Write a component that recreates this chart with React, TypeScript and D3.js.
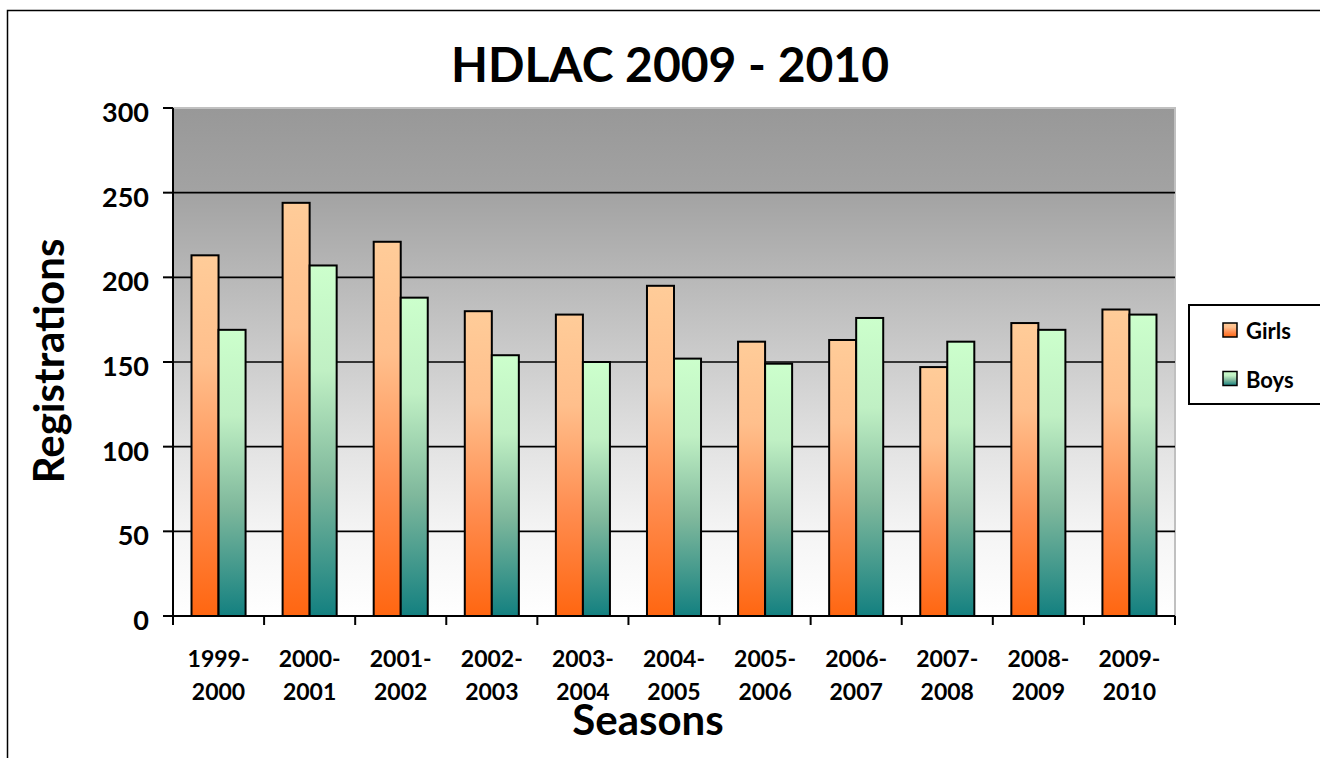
import { useRef, useEffect } from 'react';
import * as d3 from 'd3';

// 季節ごとの登録者数
const seasons = [
    '1999-2000', '2000-2001', '2001-2002', '2002-2003', '2003-2004', '2004-2005',
    '2005-2006', '2006-2007', '2007-2008', '2008-2009', '2009-2010'
];
const girls = [213, 244, 221, 180, 178, 195, 162, 163, 147, 173, 181];
const boys = [169, 207, 188, 154, 150, 152, 149, 176, 162, 169, 178];
const seriesNames = ['Girls', 'Boys'];
const yTicks = [0, 50, 100, 150, 200, 250, 300];

const FONT = 'Lato, "DejaVu Sans", sans-serif';

export default function App() {
    const svgRef = useRef<SVGSVGElement | null>(null);

    useEffect(() => {
        const width = 1320;
        const height = 758;
        const plot = { left: 173, top: 108, right: 1175, bottom: 616 };

        const svg = d3.select(svgRef.current)
            .attr('width', width)
            .attr('height', height)
            .html('');

        const defs = svg.append('defs');

        // 背景グラデーション
        const bg = defs.append('linearGradient')
            .attr('id', 'bg-grad')
            .attr('x1', 0).attr('x2', 0).attr('y1', 0).attr('y2', 1);
        [[0, '#989898'], [0.17, '#a3a3a3'], [0.5, '#cdcdcd'], [0.68, '#e4e4e4'], [0.84, '#f5f5f5'], [1, '#ffffff']]
            .forEach(([o, c]) => bg.append('stop').attr('offset', o as number).attr('stop-color', c as string));

        const barGrads: Record<string, [number, string][]> = {
            Girls: [[0, '#ffcc99'], [0.3, '#ffbf8c'], [0.65, '#ff8d50'], [1, '#ff6611']],
            Boys: [[0, '#ccffcc'], [0.3, '#c0f0c4'], [0.62, '#7fb89c'], [1, '#138080']]
        };
        Object.entries(barGrads).forEach(([name, stops]) => {
            const g = defs.append('linearGradient')
                .attr('id', `grad-${name}`)
                .attr('x1', 0).attr('x2', 0).attr('y1', 0).attr('y2', 1);
            stops.forEach(([o, c]) => g.append('stop').attr('offset', o).attr('stop-color', c));
        });

        // 外枠
        svg.append('rect')
            .attr('x', 7.5).attr('y', 10.5)
            .attr('width', 1330).attr('height', 760)
            .attr('fill', 'white')
            .attr('stroke', '#000')
            .attr('stroke-width', 1.5);

        const x0 = d3.scaleBand<string>()
            .domain(seasons)
            .range([plot.left, plot.right])
            .padding(0);
        const x1 = d3.scaleBand<string>()
            .domain(seriesNames)
            .range([0, x0.bandwidth()])
            .paddingInner(0)
            .paddingOuter(0.685);
        const y = d3.scaleLinear()
            .domain([0, 300])
            .range([plot.bottom, plot.top]);

        // プロットエリア
        svg.append('rect')
            .attr('x', plot.left).attr('y', plot.top)
            .attr('width', plot.right - plot.left)
            .attr('height', plot.bottom - plot.top)
            .attr('fill', 'url(#bg-grad)');
        svg.append('path')
            .attr('d', `M${plot.left},${plot.top}H${plot.right}V${plot.bottom}`)
            .attr('fill', 'none')
            .attr('stroke', '#c0c0c0')
            .attr('stroke-width', 2);

        // グリッド線
        svg.append('g')
            .selectAll('line')
            .data(yTicks.filter(t => t > 0 && t < 300))
            .enter()
            .append('line')
            .attr('x1', plot.left).attr('x2', plot.right)
            .attr('y1', d => y(d)).attr('y2', d => y(d))
            .attr('stroke', '#000')
            .attr('stroke-width', 1.6);

        // 棒
        const data = seasons.map((s, i) => ({ season: s, values: [girls[i], boys[i]] }));
        const groups = svg.append('g')
            .selectAll('g')
            .data(data)
            .enter()
            .append('g')
            .attr('transform', d => `translate(${x0(d.season)},0)`);
        groups.selectAll('rect')
            .data(d => d.values.map((v, j) => ({ name: seriesNames[j], value: v })))
            .enter()
            .append('rect')
            .attr('x', d => x1(d.name)!)
            .attr('y', d => y(d.value))
            .attr('width', x1.bandwidth())
            .attr('height', d => y(0) - y(d.value))
            .attr('fill', d => `url(#grad-${d.name})`)
            .attr('stroke', '#000')
            .attr('stroke-width', 2);

        // Y軸
        const yAxis = svg.append('g');
        yAxis.append('line')
            .attr('x1', plot.left).attr('x2', plot.left)
            .attr('y1', plot.top).attr('y2', plot.bottom)
            .attr('stroke', '#000').attr('stroke-width', 2);
        yAxis.selectAll('.ytick')
            .data(yTicks)
            .enter()
            .append('line')
            .attr('x1', plot.left - 10).attr('x2', plot.left)
            .attr('y1', d => y(d)).attr('y2', d => y(d))
            .attr('stroke', '#000').attr('stroke-width', 2);
        yAxis.selectAll('.ylabel')
            .data(yTicks)
            .enter()
            .append('text')
            .attr('x', 149)
            .attr('y', d => y(d) + 14)
            .attr('text-anchor', 'end')
            .attr('font-family', FONT)
            .attr('font-weight', 'bold')
            .attr('font-size', '27px')
            .text(d => d);

        // X軸
        const xAxis = svg.append('g');
        xAxis.append('line')
            .attr('x1', plot.left - 10).attr('x2', plot.right)
            .attr('y1', plot.bottom).attr('y2', plot.bottom)
            .attr('stroke', '#000').attr('stroke-width', 2);
        xAxis.selectAll('.xtick')
            .data([...seasons.map(s => x0(s)!), plot.right])
            .enter()
            .append('line')
            .attr('x1', d => d).attr('x2', d => d)
            .attr('y1', plot.bottom).attr('y2', plot.bottom + 9)
            .attr('stroke', '#000').attr('stroke-width', 2);
        const labels = xAxis.selectAll('.xlabel')
            .data(seasons)
            .enter()
            .append('text')
            .attr('text-anchor', 'middle')
            .attr('font-family', FONT)
            .attr('font-weight', 'bold')
            .attr('font-size', '23px');
        labels.append('tspan')
            .attr('x', d => x0(d)! + x0.bandwidth() / 2)
            .attr('y', 667)
            .text(d => d.split('-')[0] + '-');
        labels.append('tspan')
            .attr('x', d => x0(d)! + x0.bandwidth() / 2)
            .attr('y', 700)
            .text(d => d.split('-')[1]);

        // タイトル
        svg.append('text')
            .attr('x', 670)
            .attr('y', 82)
            .attr('text-anchor', 'middle')
            .attr('font-family', FONT)
            .attr('font-weight', 'bold')
            .attr('font-size', '48px')
            .text('HDLAC 2009 - 2010');

        svg.append('text')
            .attr('x', 648)
            .attr('y', 735)
            .attr('text-anchor', 'middle')
            .attr('font-family', FONT)
            .attr('font-weight', 'bold')
            .attr('font-size', '42px')
            .text('Seasons');

        svg.append('text')
            .attr('transform', 'translate(64,361) rotate(-90)')
            .attr('text-anchor', 'middle')
            .attr('font-family', FONT)
            .attr('font-weight', 'bold')
            .attr('font-size', '42px')
            .text('Registrations');

        // 凡例
        const legend = svg.append('g');
        legend.append('rect')
            .attr('x', 1189).attr('y', 305)
            .attr('width', 140).attr('height', 99)
            .attr('fill', 'white')
            .attr('stroke', '#000')
            .attr('stroke-width', 2);
        const items = legend.selectAll('.item')
            .data(seriesNames)
            .enter()
            .append('g')
            .attr('transform', (d, i) => `translate(1223,${323 + i * 48.5})`);
        items.append('rect')
            .attr('width', 14).attr('height', 14)
            .attr('fill', d => `url(#grad-${d})`)
            .attr('stroke', '#000')
            .attr('stroke-width', 1.5);
        items.append('text')
            .attr('x', 23)
            .attr('y', 16)
            .attr('font-family', FONT)
            .attr('font-weight', 'bold')
            .attr('font-size', '22px')
            .text(d => d);
    }, []);

    return (
        <div style={{ position: 'absolute', left: 0, top: 0 }}>
            <svg ref={svgRef}></svg>
        </div>
    );
}
